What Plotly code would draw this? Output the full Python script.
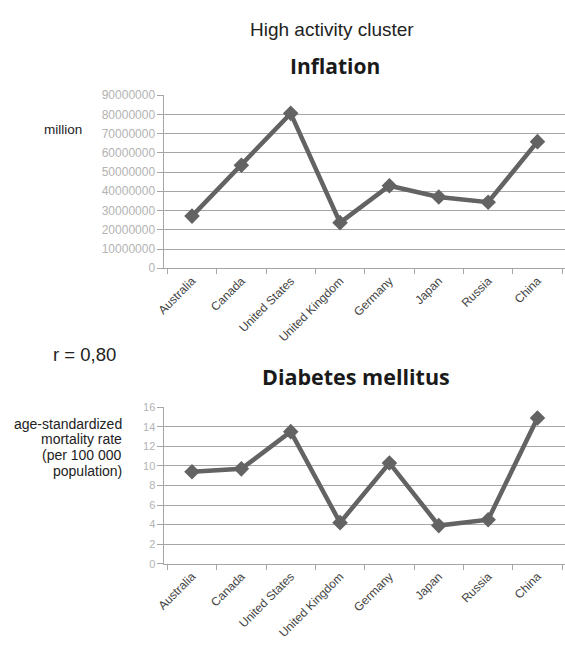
import plotly.graph_objects as go

countries = ["Australia", "Canada", "United States", "United Kingdom",
             "Germany", "Japan", "Russia", "China"]
inflation = [27100000, 53500000, 80500000, 23700000,
             42900000, 37000000, 34300000, 65800000]
diabetes = [9.4, 9.7, 13.5, 4.2, 10.3, 3.9, 4.5, 14.9]
inflation_ticks = [0, 10000000, 20000000, 30000000, 40000000,
                   50000000, 60000000, 70000000, 80000000, 90000000]
diabetes_ticks = [0, 2, 4, 6, 8, 10, 12, 14, 16]
ylabel_lines = ["age-standardized", "mortality rate", "(per 100 000", "population)"]

W, H = 565, 651
LINE = "#636363"
GRID = "#a6a6a6"
BODY = "Liberation Sans, Arial, sans-serif"
TITLE = "Open Sans, sans-serif"

fig = go.Figure()

fig.add_trace(go.Scatter(
    x=countries, y=inflation, mode="lines+markers",
    line={"color": LINE, "width": 4.5},
    marker={"symbol": "diamond", "size": 12, "color": LINE},
    xaxis="x", yaxis="y", showlegend=False,
))
fig.add_trace(go.Scatter(
    x=countries, y=diabetes, mode="lines+markers",
    line={"color": LINE, "width": 4.5},
    marker={"symbol": "diamond", "size": 12, "color": LINE},
    xaxis="x2", yaxis="y2", showlegend=False,
))

x_common = dict(
    type="category", showgrid=False, showline=True, linecolor=GRID,
    ticks="outside", tickson="boundaries", ticklen=5, tickcolor=GRID,
    tickangle=-45, tickfont={"family": BODY, "size": 12, "color": "#444444"},
)
y_common = dict(
    showgrid=True, gridcolor=GRID, gridwidth=1, showline=True, linecolor=GRID,
    ticks="outside", ticklen=6, tickcolor=GRID, zeroline=False,
)

top = [(H - 267) / H, (H - 90) / H]
bottom = [(H - 569) / H, (H - 409) / H]
x_dom = [158 / W, 1.0]

fig.update_layout(
    width=W, height=H,
    margin={"l": 0, "r": 0, "t": 0, "b": 0},
    paper_bgcolor="white", plot_bgcolor="white",
    xaxis=dict(x_common, domain=x_dom, anchor="y"),
    yaxis=dict(y_common, domain=top, anchor="x", range=[0, 90000000],
               tickvals=inflation_ticks, tickformat="d",
               tickfont={"family": BODY, "size": 12, "color": "#b3b3b3"}),
    xaxis2=dict(x_common, domain=x_dom, anchor="y2"),
    yaxis2=dict(y_common, domain=bottom, anchor="x2", range=[0, 16],
                tickvals=diabetes_ticks,
                tickfont={"family": BODY, "size": 11, "color": "#b3b3b3"}),
)

notes = [
    ("High activity cluster", 328, 23, "center", BODY, 19, "#222222"),
    ("<b>Inflation</b>", 331, 60, "center", TITLE, 21, "#1a1a1a"),
    ("million", 76, 125, "right", BODY, 13.5, "#222222"),
    ("r = 0,80", 43, 355, "left", BODY, 18.5, "#222222"),
    ("<b>Diabetes mellitus</b>", 353, 378, "center", TITLE, 21.5, "#1a1a1a"),
]
for i, line in enumerate(ylabel_lines):
    notes.append((line, 117, 426 + 16 * i, "right", BODY, 14, "#222222"))

for text, px, py, anchor, family, size, color in notes:
    fig.add_annotation(
        text=text, x=px / W, y=1 - py / H, xref="paper", yref="paper",
        xanchor=anchor, yanchor="middle", align=anchor, showarrow=False,
        font={"family": family, "size": size, "color": color},
    )

fig.write_html(
    "out.html",
    config={"displayModeBar": False},
    post_script="document.body.style.margin='0';document.body.style.overflow='hidden';",
)
